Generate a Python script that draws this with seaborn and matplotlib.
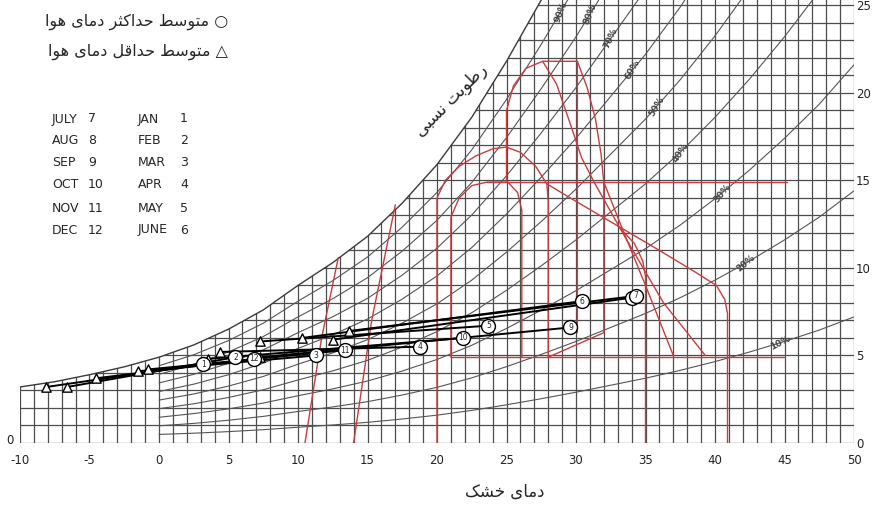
import numpy as np
import pandas as pd
import matplotlib
matplotlib.use("Agg")
import matplotlib.pyplot as plt
import seaborn as sns
from matplotlib.patches import Polygon
from matplotlib.collections import LineCollection

# saturation (100% RH) curve, T in C, W in g/kg
SAT_T = [-10, -7.5, -5, -2.5, 0, 2.5, 5, 7.5, 10, 12.5, 15, 17.5, 20, 22.5, 25,
         27.5, 30, 32.5, 35, 37.5, 40, 42.5, 45, 47.5, 50]
SAT_W = [3.2, 3.5, 3.9, 4.35, 4.9, 5.6, 6.5, 7.6, 9.0, 10.3, 11.8, 13.7, 15.9, 18.6, 21.8,
         25.3, 29.0, 33.0, 37.0, 41.5, 46.5, 52.0, 58.0, 64.5, 72.0]
RH_LEVELS = [0.1, 0.2, 0.3, 0.4, 0.5, 0.6, 0.7, 0.8, 0.9]
RH_LABEL_T = [44.7, 42.2, 40.5, 37.5, 35.8, 34.1, 32.5, 31.0, 28.9]

# monthly mean min / max (dry bulb, humidity ratio)
MONTHS = ['JAN', 'FEB', 'MAR', 'APR', 'MAY', 'JUNE', 'JULY', 'AUG', 'SEP', 'OCT', 'NOV', 'DEC']
MONTH_NUM = list(range(1, 13))
MIN_T = [-8.1, -6.6, -1.5, 4.4, 7.3, 10.3, 13.7, 12.5, 7.3, 3.5, -0.8, -4.5]
MIN_W = [3.2, 3.2, 4.1, 5.2, 5.8, 6.0, 6.4, 5.9, 4.9, 4.8, 4.2, 3.7]
MAX_T = [3.2, 5.5, 11.3, 18.8, 23.7, 30.4, 34.3, 34.0, 29.6, 21.9, 13.4, 6.8]
MAX_W = [4.5, 4.9, 5.0, 5.5, 6.7, 8.1, 8.4, 8.3, 6.6, 6.0, 5.3, 4.8]

# bioclimatic zone boundaries (red)
RED_P = [(20, 0), (20, 14.0), (20.6, 15.0), (21.6, 15.8), (22.8, 16.4), (24, 16.8), (25, 16.9),
         (26, 16.6), (27.1, 15.8), (27.9, 14.8), (28, 13.8), (28, 4.9)]
RED_Q = [(21, 4.9), (21, 12.9), (21.6, 14.0), (22.5, 14.7), (23.6, 14.9), (25.1, 14.9),
         (25.8, 14.3), (26.1, 13.3), (26.1, 4.9)]
RED_R = [(25, 14.9), (25, 19.0), (25.5, 20.4), (26.4, 21.4), (27.6, 21.8), (30.1, 21.8), (30.1, 6.3)]
RED_A = [(30.1, 21.8), (30.8, 20.3), (31.4, 18.5), (31.8, 16.5), (32.0, 14.9), (33.3, 12.3),
         (35.0, 9.0), (37.0, 5.0)]
RED_B = [(27.6, 21.8), (28.6, 20.5), (29.6, 18.2), (30.4, 16.3), (31.3, 14.9), (33.5, 11.8),
         (36.3, 8.0), (39.3, 5.0)]
RED_D = [(27.9, 14.8), (30, 13.8), (33, 12.4), (36, 11.0), (38.5, 9.8), (40.1, 9.0), (40.7, 8.2),
         (40.9, 7.4), (40.9, 0)]
RED_E = [(33.0, 12.4), (34.2, 11.4), (34.8, 10.4), (35.0, 9.5), (35.0, 0)]
RED_H15 = [(23.6, 14.9), (45.2, 14.9)]
RED_H5 = [(21, 4.9), (45, 4.9)]
RED_G = [(28, 4.9), (32, 6.3), (32, 14.9)]
RED_L1 = [(10.5, 0), (11.7, 6.0), (12.9, 10.6)]
RED_L2 = [(14.0, 0), (15.3, 7.0), (17.0, 13.6)]
RED_LINES = [RED_P, RED_Q, RED_R, RED_A, RED_B, RED_D, RED_E, RED_H15, RED_H5, RED_G, RED_L1, RED_L2]

# Persian labels
TXT_MAX = 'متوسط حداکثر دمای هوا'
TXT_MIN = 'متوسط حداقل دمای هوا'
TXT_RH = 'رطوبت نسبی'
TXT_XLABEL = 'دمای خشک'

# arabic presentation forms: isolated, final, initial, medial
FORMS = {
    'ا': ('\uFE8D', '\uFE8E', None, None),
    'ب': ('\uFE8F', '\uFE90', '\uFE91', '\uFE92'),
    'ت': ('\uFE95', '\uFE96', '\uFE97', '\uFE98'),
    'ث': ('\uFE99', '\uFE9A', '\uFE9B', '\uFE9C'),
    'ح': ('\uFEA1', '\uFEA2', '\uFEA3', '\uFEA4'),
    'خ': ('\uFEA5', '\uFEA6', '\uFEA7', '\uFEA8'),
    'د': ('\uFEA9', '\uFEAA', None, None),
    'ر': ('\uFEAD', '\uFEAE', None, None),
    'س': ('\uFEB1', '\uFEB2', '\uFEB3', '\uFEB4'),
    'ش': ('\uFEB5', '\uFEB6', '\uFEB7', '\uFEB8'),
    'ط': ('\uFEC1', '\uFEC2', '\uFEC3', '\uFEC4'),
    'ق': ('\uFED5', '\uFED6', '\uFED7', '\uFED8'),
    'ل': ('\uFEDD', '\uFEDE', '\uFEDF', '\uFEE0'),
    'م': ('\uFEE1', '\uFEE2', '\uFEE3', '\uFEE4'),
    'ن': ('\uFEE5', '\uFEE6', '\uFEE7', '\uFEE8'),
    'ه': ('\uFEE9', '\uFEEA', '\uFEEB', '\uFEEC'),
    'و': ('\uFEED', '\uFEEE', None, None),
    'ک': ('\uFB8E', '\uFB8F', '\uFB90', '\uFB91'),
    'ی': ('\uFBFC', '\uFBFD', '\uFBFE', '\uFBFF'),
}


def shape_fa(text):
    # join letters and put them in visual (left-to-right) order
    out = []
    for i, ch in enumerate(text):
        f = FORMS.get(ch)
        if f is None:
            out.append(ch)
            continue
        prev = text[i - 1] if i > 0 else ''
        nxt = text[i + 1] if i + 1 < len(text) else ''
        jp = prev in FORMS and FORMS[prev][2] is not None
        jn = nxt in FORMS and f[2] is not None
        if jp and jn:
            out.append(f[3])
        elif jp:
            out.append(f[1])
        elif jn:
            out.append(f[2])
        else:
            out.append(f[0])
    return ''.join(reversed(out))


sns.set_theme(style="white")
plt.rcParams['font.family'] = ['DejaVu Sans']

W_PX, H_PX = 872, 509
fig = plt.figure(figsize=(W_PX / 100, H_PX / 100), dpi=100)
ax = fig.add_axes([20 / W_PX, (H_PX - 443) / H_PX, 834 / W_PX, 443 / H_PX])
ax.set_xlim(-10, 50)
ax.set_ylim(0, 25.3)

clip = Polygon([(-10, 0)] + list(zip(SAT_T, SAT_W)) + [(50, 0)], closed=True,
               transform=ax.transData, facecolor='none', edgecolor='none')

grid_col = '#4d4d4d'
vl = [[(t, 0), (t, 30)] for t in np.arange(-10, 51, 1)]
hl = [[(-10, w), (50, w)] for w in np.arange(0, 26, 1)]
grid = LineCollection(vl + hl, colors=grid_col, linewidths=0.9, zorder=1)
ax.add_collection(grid)
grid.set_clip_path(clip)

# saturation curve and RH curves
sat_t = np.array(SAT_T)
sat_w = np.array(SAT_W)
ax.plot(sat_t, sat_w, color='#3a3a3a', lw=1.0, zorder=2)
pos = sat_t >= 0
for phi in RH_LEVELS:
    ln, = ax.plot(sat_t[pos], sat_w[pos] * phi, color='#555555', lw=0.8, zorder=2)
    ln.set_clip_path(clip)

for phi, tl in zip(RH_LEVELS, RH_LABEL_T):
    wl = np.interp(tl, SAT_T, SAT_W) * phi
    w2 = np.interp(tl + 0.5, SAT_T, SAT_W) * phi
    p1 = ax.transData.transform((tl, wl))
    p2 = ax.transData.transform((tl + 0.5, w2))
    ang = np.degrees(np.arctan2(p2[1] - p1[1], p2[0] - p1[0])) + 10
    ax.text(tl, min(wl, 24.7), f'{int(round(phi * 100))}%', rotation=ang, rotation_mode='anchor',
            ha='center', va='center', fontsize=6.5, fontweight='bold', color='#444444',
            zorder=3)

# red zone boundaries
for seg in RED_LINES:
    ts, ws = zip(*seg)
    ax.plot(ts, ws, color='#cc3b3b', lw=1.0, zorder=3)

# monthly min-max lines
rows = []
for m, a, b, c, d in zip(MONTH_NUM, MIN_T, MIN_W, MAX_T, MAX_W):
    rows.append({'month': m, 'kind': 'min', 'T': a, 'W': b})
    rows.append({'month': m, 'kind': 'max', 'T': c, 'W': d})
df = pd.DataFrame(rows)

sns.lineplot(data=df, x='T', y='W', units='month', estimator=None, sort=False,
             color='black', lw=1.4, ax=ax, zorder=4, legend=False)
sns.scatterplot(data=df[df.kind == 'min'], x='T', y='W', marker='^', s=45,
                facecolor='white', edgecolor='black', linewidth=1.0, ax=ax, zorder=5, legend=False)

# max circles drawn one by one, later months first, so JULY ends up on top of AUG
for m, t, w in sorted(zip(MONTH_NUM, MAX_T, MAX_W), reverse=True):
    ax.scatter([t], [w], marker='o', s=100, facecolor='white', edgecolor='black',
               linewidth=1.0, zorder=5 + 0.01 * (13 - m))
    ax.text(t, w, str(m), fontsize=5.5, ha='center', va='center', zorder=5.005 + 0.01 * (13 - m))

# axes dressing
for s in ax.spines.values():
    s.set_visible(False)
ax.set_xticks(range(-10, 51, 5))
ax.set_xticklabels([str(v) for v in range(-10, 51, 5)])
ax.yaxis.tick_right()
ax.set_yticks(range(0, 26, 5))
ax.tick_params(axis='both', length=0, labelsize=8.5, colors='#222222')
ax.tick_params(axis='x', pad=8)
ax.tick_params(axis='y', pad=1.5)
ax.set_xlabel('')
ax.set_ylabel('')
fig.text(10 / W_PX, 1 - 440 / H_PX, '0', fontsize=8.5, ha='center', va='center', color='#222222')


def fx(px):
    return px / W_PX


def fy(py):
    return 1 - py / H_PX


fig.text(fx(228), fy(22), shape_fa('○ ' + TXT_MAX), fontsize=11.5, ha='right', va='center')
fig.text(fx(228), fy(52), shape_fa('△ ' + TXT_MIN), fontsize=11.5, ha='right', va='center')

row_y = [119, 141, 162, 184, 208, 230]
for i in range(6):
    left = 6 + i   # JULY..DEC
    right = i      # JAN..JUNE
    fig.text(fx(52), fy(row_y[i]), MONTHS[left], fontsize=9, ha='left', va='center')
    fig.text(fx(88), fy(row_y[i]), str(MONTH_NUM[left]), fontsize=9, ha='left', va='center')
    fig.text(fx(138), fy(row_y[i]), MONTHS[right], fontsize=9, ha='left', va='center')
    fig.text(fx(180), fy(row_y[i]), str(MONTH_NUM[right]), fontsize=9, ha='left', va='center')

fig.text(fx(451), fy(100), shape_fa(TXT_RH), fontsize=12, rotation=45,
         ha='center', va='center', rotation_mode='anchor')
fig.text(fx(505), fy(492), shape_fa(TXT_XLABEL), fontsize=12, ha='center', va='center')

fig.savefig('out.png', dpi=100)
